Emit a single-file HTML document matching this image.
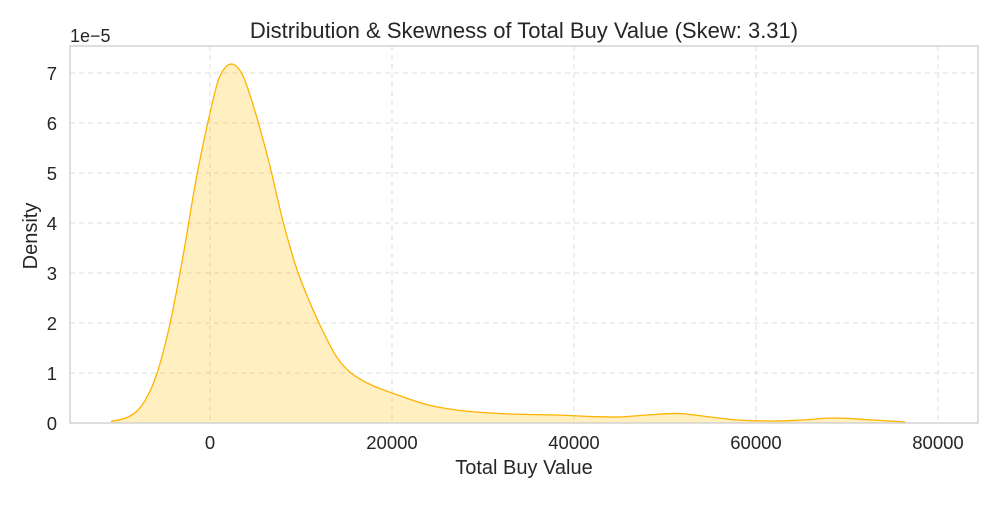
<!DOCTYPE html>
<html><head><meta charset="utf-8"><style>
body{margin:0;background:#fff;font-family:"Liberation Sans",sans-serif;}
svg text{fill:#262626;font-family:"Liberation Sans",sans-serif;}
</style></head><body>
<svg id="c" width="1000" height="500"></svg>
<script>
const xTicks=[0,20000,40000,60000,80000];
const yTicks=[0,1,2,3,4,5,6,7];
const xs=[-10880,-9000,-7500,-6000,-4500,-3000,-1500,0,1000,2300,3600,5000,6500,8000,9500,11000,12500,14000,15500,17500,20000,24000,28000,33000,38000,42000,45000,48000,51500,55000,58000,62000,65000,68500,72000,76400];
const ds=[0.03,0.12,0.35,0.9,1.9,3.3,4.9,6.2,6.9,7.18,6.95,6.2,5.2,4.05,3.1,2.4,1.8,1.3,1.0,0.78,0.6,0.36,0.24,0.18,0.16,0.13,0.12,0.16,0.19,0.12,0.06,0.04,0.06,0.1,0.07,0.02];
const L=70,R=978,T=46,B=423;
const X=v=>210+v*182/20000, Y=v=>423-v*50;
const svg=document.getElementById('c'),NS='http://www.w3.org/2000/svg';
function mk(t,a,p){const e=document.createElementNS(NS,t);for(const k in a)e.setAttribute(k,a[k]);(p||svg).appendChild(e);return e;}
const g=mk('g',{});


xTicks.forEach(v=>{mk('line',{x1:X(v),x2:X(v),y1:T,y2:B,stroke:'#ddd','stroke-dasharray':'5,4'},g);
const t=mk('text',{x:X(v),y:449,'text-anchor':'middle','font-size':18.5});t.textContent=v;
});
yTicks.forEach(v=>{mk('line',{x1:L,x2:R,y1:Y(v),y2:Y(v),stroke:'#ddd','stroke-dasharray':'5,4'},g);
const t=mk('text',{x:57,y:Y(v)+7,'text-anchor':'end','font-size':18.5});t.textContent=v;
});
const P=xs.map((v,i)=>[X(v),Y(ds[i])]);
const n=P.length;
const m=P.map((p,i)=>{const a=P[Math.max(0,i-1)],b=P[Math.min(n-1,i+1)];return (b[1]-a[1])/(b[0]-a[0]);});
let d='M'+P[0][0]+','+P[0][1];
for(let i=0;i<n-1;i++){const p1=P[i],p2=P[i+1],h=(p2[0]-p1[0])/3;
d+=` C${p1[0]+h},${p1[1]+m[i]*h} ${p2[0]-h},${p2[1]-m[i+1]*h} ${p2[0]},${p2[1]}`;}
const area=mk('path',{d:d+` L${P[n-1][0]},${B} L${P[0][0]},${B} Z`,fill:'#ffc107','fill-opacity':0.25});

const line=mk('path',{d:d,fill:'none',stroke:'#ffb300','stroke-width':1.3});

const fr=mk('rect',{x:L,y:T,width:R-L,height:B-T,fill:'none',stroke:'#ccc','stroke-width':1.3});

function txt(s,a,n){const t=mk('text',a);t.textContent=s;}
txt('Distribution & Skewness of Total Buy Value (Skew: 3.31)',{x:524,y:38,'text-anchor':'middle','font-size':22},'chart-title');
txt('1e−5',{x:70,y:42,'font-size':18},'y-axis-offset');
txt('Total Buy Value',{x:524,y:474,'text-anchor':'middle','font-size':20},'x-axis-title');
txt('Density',{x:37,y:236,'text-anchor':'middle','font-size':20,transform:'rotate(-90 37 236)'},'y-axis-title');
</script></body></html>
